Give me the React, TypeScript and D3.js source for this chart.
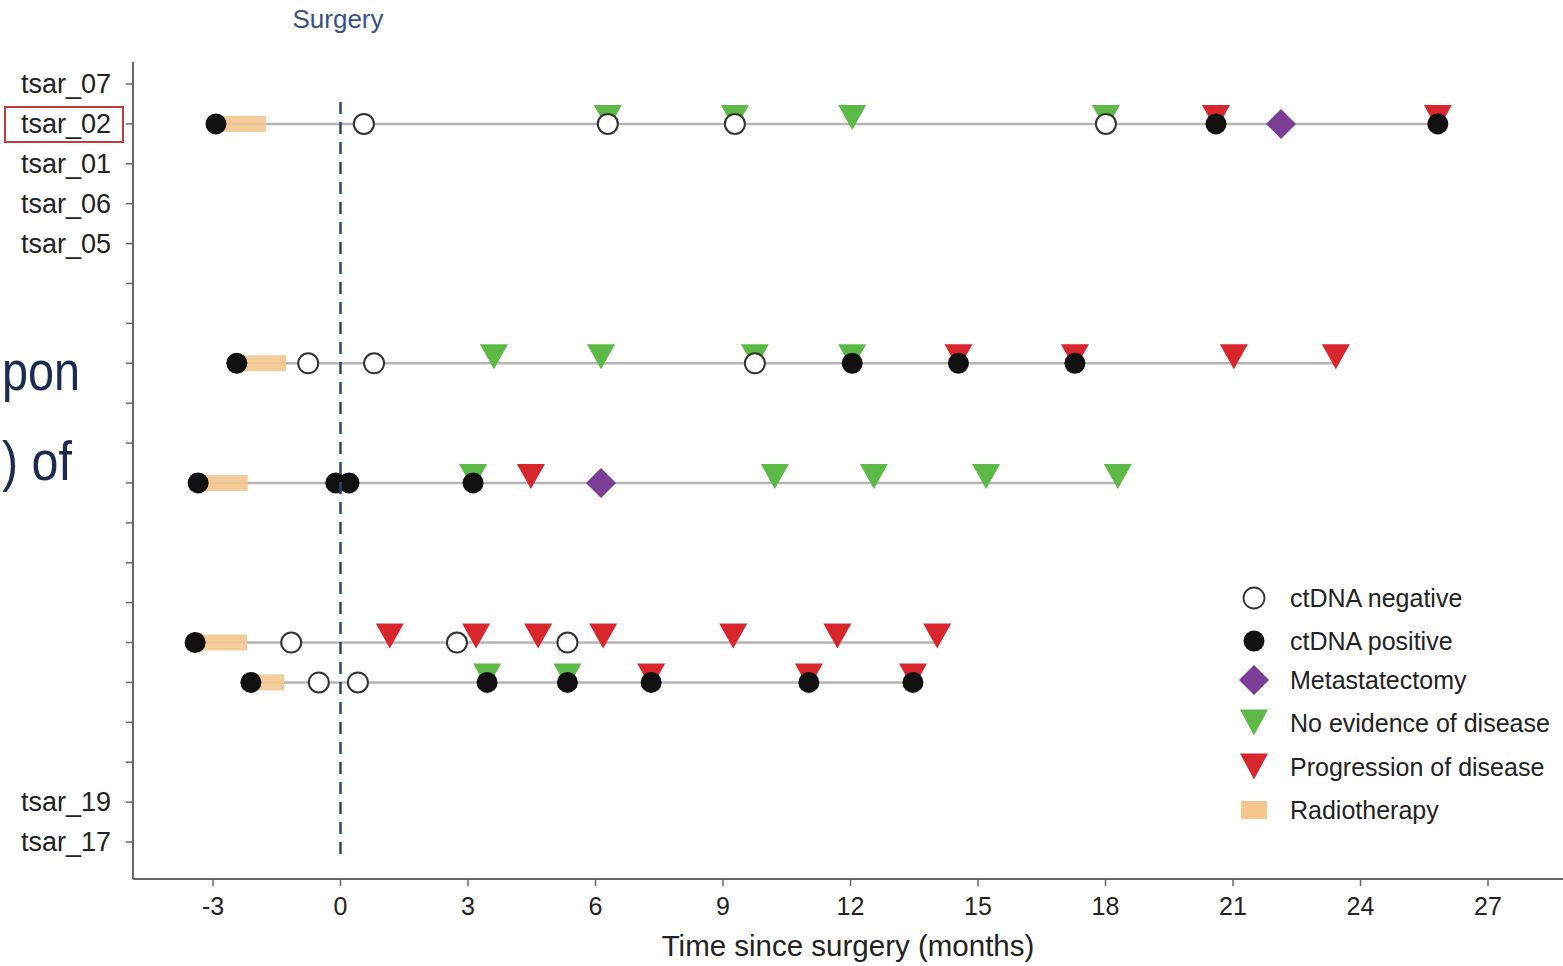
import React from "react";
import * as d3 from "d3";

// ---------- data ----------
const yLabels = [
  "tsar_07", "tsar_02", "tsar_01", "tsar_06", "tsar_05",
  "", "", "", "", "", "", "", "", "", "", "", "", "",
  "tsar_19", "tsar_17",
];
const xTicks = [-3, 0, 3, 6, 9, 12, 15, 18, 21, 24, 27];

// [row index, month]
const ctdnaNegative: [number, number][] = [
  [1, 0.55], [1, 6.29], [1, 9.28], [1, 18.01],
  [7, -0.76], [7, 0.79], [7, 9.75],
  [14, -1.16], [14, 2.74], [14, 5.34],
  [15, -0.51], [15, 0.41],
];
const ctdnaPositive: [number, number][] = [
  [1, -2.93], [1, 20.6], [1, 25.82],
  [7, -2.44], [7, 12.04], [7, 14.54], [7, 17.28],
  [10, -3.35], [10, -0.11], [10, 0.2], [10, 3.12],
  [14, -3.42],
  [15, -2.11], [15, 3.45], [15, 5.34], [15, 7.31], [15, 11.02], [15, 13.47],
];
const metastatectomy: [number, number][] = [
  [1, 22.13],
  [10, 6.13],
];
const noEvidence: [number, number][] = [
  [1, 6.29], [1, 9.28], [1, 12.04], [1, 18.01],
  [7, 3.61], [7, 6.13], [7, 9.75], [7, 12.04],
  [10, 3.12], [10, 10.22], [10, 12.55], [10, 15.19], [10, 18.29],
  [15, 3.45], [15, 5.34],
];
const progression: [number, number][] = [
  [1, 20.6], [1, 25.82],
  [7, 14.54], [7, 17.28], [7, 21.02], [7, 23.42],
  [10, 4.48],
  [14, 1.16], [14, 3.19], [14, 4.65], [14, 6.18], [14, 9.24], [14, 11.69], [14, 14.04],
  [15, 7.31], [15, 11.02], [15, 13.47],
];
// [row index, start, end]
const radiotherapy: [number, number, number][] = [
  [1, -2.93, -1.75],
  [7, -2.44, -1.28],
  [10, -3.35, -2.18],
  [14, -3.42, -2.2],
  [15, -2.11, -1.33],
];

const legendItems = [
  "ctDNA negative",
  "ctDNA positive",
  "Metastatectomy",
  "No evidence of disease",
  "Progression of disease",
  "Radiotherapy",
];

// ---------- styles ----------
const W = 1563;
const H = 966;
const FONT = "'Liberation Sans', Arial, Helvetica, sans-serif";
const GREEN = "#5cb946";
const RED = "#d7262c";
const PURPLE = "#7b3d96";
const ORANGE = "#f3c78e";
const AXIS = "#666";
const NAVY = "#2d4470";

const triPath = (x: number, y: number, w = 28, h = 25, off = -6) => {
  const top = y + off - h * 0.52;
  const bot = y + off + h * 0.48;
  return `M${x - w / 2},${top}L${x + w / 2},${top}L${x},${bot}Z`;
};
const diamondPath = (x: number, y: number, r = 15) =>
  `M${x},${y - r}L${x + r},${y}L${x},${y + r}L${x - r},${y}Z`;

export default function App() {
  const x = d3.scaleLinear().domain([-3, 27]).range([213, 1488]);
  const y = d3
    .scalePoint<number>()
    .domain(d3.range(yLabels.length))
    .range([84, 842]);

  const xLeft = 133;
  const yBottom = 879;

  // follow-up lines per row: from first to last event
  const allEvents = [
    ...ctdnaNegative,
    ...ctdnaPositive,
    ...metastatectomy,
    ...noEvidence,
    ...progression,
  ];
  const rows = d3.group(allEvents, (d) => d[0]);
  const lines = Array.from(rows, ([row, evs]) => ({
    row,
    start: d3.min(evs, (e) => e[1]) as number,
    end: d3.max(evs, (e) => e[1]) as number,
  }));

  const legendX = 1254;
  const legendY = [598, 641, 680, 723, 767, 810];

  return (
    <svg
      width={W}
      height={H}
      style={{ position: "absolute", left: 0, top: 0, background: "#fff" }}
      fontFamily={FONT}
    >
      <rect x={0} y={0} width={W} height={H} fill="#fff" />

      {/* Surgery label */}
      <text x={338} y={28} textAnchor="middle" fontSize={26} fill="#3b5088">
        Surgery
      </text>

      {/* follow-up lines */}
      {lines.map((l) => (
        <line
          key={"l" + l.row}
          x1={x(l.start)}
          x2={x(l.end)}
          y1={y(l.row)}
          y2={y(l.row)}
          stroke="#b4b4b4"
          strokeWidth={2.5}
        />
      ))}

      {/* radiotherapy */}
      {radiotherapy.map(([r, s, e], i) => (
        <rect
          key={"rt" + i}
          x={x(s)}
          y={(y(r) as number) - 8}
          width={x(e) - x(s)}
          height={16}
          fill={ORANGE}
          opacity={0.9}
        />
      ))}

      {/* triangles */}
      {noEvidence.map(([r, t], i) => (
        <path key={"g" + i} d={triPath(x(t), y(r) as number)} fill={GREEN} />
      ))}
      {progression.map(([r, t], i) => (
        <path key={"p" + i} d={triPath(x(t), y(r) as number)} fill={RED} />
      ))}

      {/* ctDNA */}
      {ctdnaNegative.map(([r, t], i) => (
        <circle
          key={"n" + i}
          cx={x(t)}
          cy={y(r)}
          r={10}
          fill="#fff"
          stroke="#333"
          strokeWidth={2}
        />
      ))}
      {ctdnaPositive.map(([r, t], i) => (
        <circle key={"pp" + i} cx={x(t)} cy={y(r)} r={10.5} fill="#111" />
      ))}
      {metastatectomy.map(([r, t], i) => (
        <path key={"m" + i} d={diamondPath(x(t), y(r) as number)} fill={PURPLE} />
      ))}

      {/* surgery line */}
      <line
        x1={x(0)}
        x2={x(0)}
        y1={102}
        y2={862}
        stroke={NAVY}
        strokeWidth={2.5}
        strokeDasharray="12,8"
      />

      {/* axes */}
      <line x1={xLeft} x2={xLeft} y1={62} y2={yBottom} stroke={AXIS} strokeWidth={2} />
      <line x1={xLeft} x2={W} y1={yBottom} y2={yBottom} stroke={AXIS} strokeWidth={2} />
      {yLabels.map((lab, i) => (
        <g key={"yt" + i}>
          <line
            x1={xLeft - 7}
            x2={xLeft}
            y1={y(i)}
            y2={y(i)}
            stroke={AXIS}
            strokeWidth={1.5}
          />
          {lab && (
            <text
              x={111}
              y={(y(i) as number) + 9}
              textAnchor="end"
              fontSize={27}
              fill="#222"
            >
              {lab}
            </text>
          )}
        </g>
      ))}
      {xTicks.map((t) => (
        <g key={"xt" + t}>
          <line
            x1={x(t)}
            x2={x(t)}
            y1={yBottom}
            y2={yBottom + 7}
            stroke={AXIS}
            strokeWidth={1.5}
          />
          <text x={x(t)} y={915} textAnchor="middle" fontSize={25} fill="#222">
            {t}
          </text>
        </g>
      ))}
      <text x={848} y={956} textAnchor="middle" fontSize={29.5} fill="#222">
        Time since surgery (months)
      </text>

      {/* highlight box */}
      <rect
        x={5}
        y={107}
        width={118}
        height={35}
        fill="none"
        stroke="#c23a3a"
        strokeWidth={2}
      />

      {/* overlay slide text */}
      <text
        x={2}
        y={390}
        fontSize={56}
        fill="#1c2b4f"
        textLength={78}
        lengthAdjust="spacingAndGlyphs"
      >
        pon
      </text>
      <text
        x={2}
        y={480}
        fontSize={56}
        fill="#1c2b4f"
        textLength={70}
        lengthAdjust="spacingAndGlyphs"
      >
        ) of
      </text>

      {/* legend */}
      <circle cx={legendX} cy={legendY[0]} r={10.5} fill="#fff" stroke="#333" strokeWidth={1.8} />
      <circle cx={legendX} cy={legendY[1]} r={10.5} fill="#111" />
      <path d={diamondPath(legendX, legendY[2], 15)} fill={PURPLE} />
      <path d={triPath(legendX, legendY[3], 28, 26, 0)} fill={GREEN} />
      <path d={triPath(legendX, legendY[4], 28, 26, 0)} fill={RED} />
      <rect x={legendX - 13} y={legendY[5] - 9} width={26} height={18} fill={ORANGE} />
      {legendItems.map((t, i) => (
        <text key={t} x={1290} y={legendY[i] + 9} fontSize={25} fill="#222">
          {t}
        </text>
      ))}
    </svg>
  );
}
